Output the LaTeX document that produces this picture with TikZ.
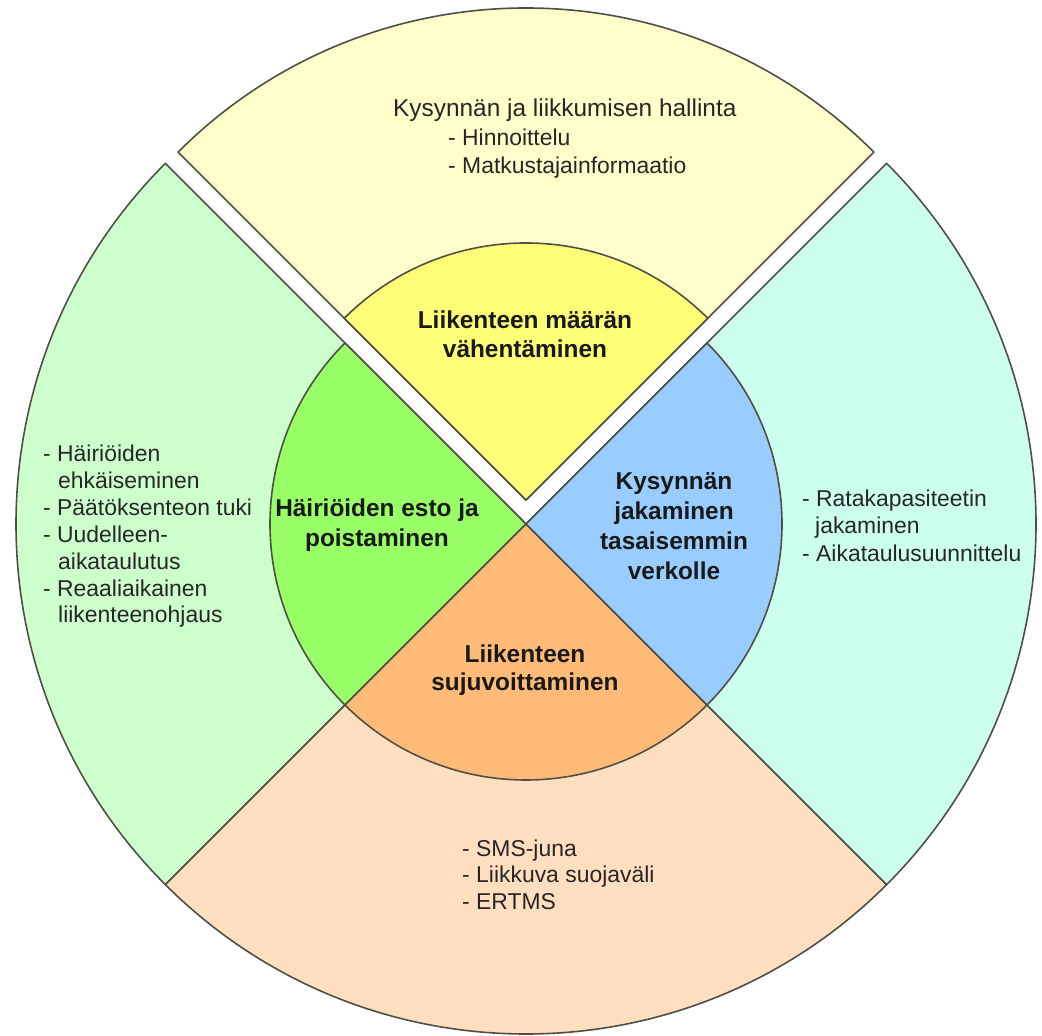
\documentclass[tikz,border=0pt]{standalone}
\usepackage{fontspec}
\setmainfont{Liberation Sans}
\definecolor{topout}{HTML}{FFFFCC}
\definecolor{topin}{HTML}{FFFF77}
\definecolor{leftout}{HTML}{CCFFCC}
\definecolor{leftin}{HTML}{99FF66}
\definecolor{rightout}{HTML}{CCFFEE}
\definecolor{rightin}{HTML}{99CCFF}
\definecolor{botout}{HTML}{FFDFC0}
\definecolor{botin}{HTML}{FFBB77}
\definecolor{rim}{HTML}{4F4F45}
\begin{document}
\begin{tikzpicture}[x=1bp,y=1bp,
  edge/.style={draw=rim, line width=1.6bp, line join=round},
  item/.style={anchor=base west, inner sep=0pt, font=\fontsize{23}{27}\selectfont, text=black!85},
  head/.style={anchor=base, inner sep=0pt, font=\fontsize{24.5}{30}\selectfont\bfseries, text=black!90},
  ]
\useasboundingbox (0,0) rectangle (1042,1036);
\coordinate (C) at (526,512);
\coordinate (T) at (526,536);

% outer ring sectors
\path[edge, fill=leftout] (C) -- ++(135:510) arc[start angle=135, end angle=225, radius=510] -- cycle;
\path[edge, fill=botout] (C) -- ++(225:510) arc[start angle=225, end angle=315, radius=510] -- cycle;
\path[edge, fill=rightout] (C) -- ++(-45:510) arc[start angle=-45, end angle=45, radius=510] -- cycle;
\path[edge, fill=topout] (T) -- ++(45:492) arc[start angle=45, end angle=135, radius=492] -- cycle;

% inner sectors
\path[edge, fill=leftin] (C) -- ++(135:256) arc[start angle=135, end angle=225, radius=256] -- cycle;
\path[edge, fill=botin] (C) -- ++(225:256) arc[start angle=225, end angle=315, radius=256] -- cycle;
\path[edge, fill=rightin] (C) -- ++(-45:256) arc[start angle=-45, end angle=45, radius=256] -- cycle;
\path[edge, fill=topin] (T) -- ++(45:257) arc[start angle=45, end angle=135, radius=257] -- cycle;

% top sector texts
\node[item, font=\fontsize{24.5}{28}\selectfont] (ttitle) at (393,919) {Kysynnän ja liikkumisen hallinta};
\node[item] (t1) at (448,890) {- Hinnoittelu};
\node[item] (t2) at (448,862) {- Matkustajainformaatio};

% left sector texts
\node[item] (l1) at (43,574) {- Häiriöiden};
\node[item] (l2) at (58,547) {ehkäiseminen};
\node[item] (l3) at (43,520) {- Päätöksenteon tuki};
\node[item] (l4) at (43,493) {- Uudelleen-};
\node[item] (l5) at (58,466) {aikataulutus};
\node[item] (l6) at (43,439) {- Reaaliaikainen};
\node[item] (l7) at (58,413) {liikenteenohjaus};

% right sector texts
\node[item] (r1) at (802,529) {- Ratakapasiteetin};
\node[item] (r2) at (815,502) {jakaminen};
\node[item] (r3) at (802,474) {- Aikataulusuunnittelu};

% bottom sector texts
\node[item] (b1) at (462,179) {- SMS-juna};
\node[item] (b2) at (462,153) {- Liikkuva suojaväli};
\node[item] (b3) at (462,126) {- ERTMS};

% inner headings
\node[head] (ht1) at (525,707) {Liikenteen määrän};
\node[head] (ht2) at (525,678) {vähentäminen};
\node[head] (hl1) at (377,519) {Häiriöiden esto ja};
\node[head] (hl2) at (377,489) {poistaminen};
\node[head] (hr1) at (674,546) {Kysynnän};
\node[head] (hr2) at (674,516) {jakaminen};
\node[head] (hr3) at (674,486) {tasaisemmin};
\node[head] (hr4) at (674,456) {verkolle};
\node[head] (hb1) at (525,373) {Liikenteen};
\node[head] (hb2) at (525,345) {sujuvoittaminen};
\end{tikzpicture}
\end{document}
